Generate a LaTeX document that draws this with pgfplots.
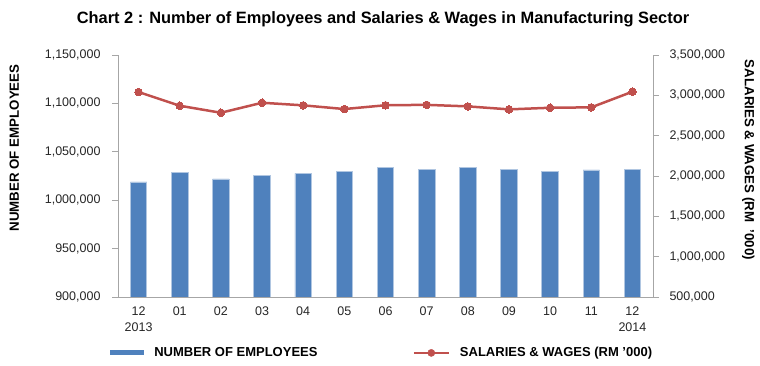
\documentclass[border=0pt]{standalone}
\usepackage{pgfplots}
\pgfplotsset{compat=1.18}
\usepackage{fontspec}
\setmainfont{Liberation Sans}
\definecolor{barblue}{HTML}{4F81BD}
\definecolor{linered}{HTML}{C0504D}
\definecolor{axgray}{HTML}{A6A6A6}
\definecolor{txt}{HTML}{262626}
\begin{document}
\begin{tikzpicture}
\path[use as bounding box] (0,0) rectangle (760pt,366pt);
\node[font=\bfseries\fontsize{16.4}{18}\selectfont] at (383pt,347pt) {Chart 2 : Number of Employees and Salaries \& Wages in Manufacturing Sector};
\pgfplotsset{
  common/.style={
    at={(118pt,69pt)}, anchor=south west,
    scale only axis, width=535pt, height=242pt,
    xmin=-0.5, xmax=12.5,
    tick align=outside,
    major tick length=6pt, minor tick length=6pt,
    axis line style={axgray, line width=0.8pt},
    tick style={axgray, line width=0.8pt},
    tick label style={font=\fontsize{12.5}{15}\selectfont, text=txt},
    scaled y ticks=false,
    /pgf/number format/.cd, fixed, precision=0, 1000 sep={,}, assume math mode=true,
  }
}
\begin{axis}[common,
  ybar, bar width=16.5pt,
  axis x line*=bottom, axis y line*=left,
  ymin=900000, ymax=1150000,
  ytick={900000,950000,1000000,1050000,1100000,1150000},
  yticklabel style={xshift=-8pt},
  xtick={0,...,12},
  xticklabels={{12\\2013},01,02,03,04,05,06,07,08,09,10,11,{12\\2014}},
  xticklabel style={align=center, font=\fontsize{12.5}{16}\selectfont},
  x tick style={draw=none},
  minor xtick={-0.5,0.5,...,12.5},
  ylabel={NUMBER OF EMPLOYEES},
  ylabel style={font=\bfseries\fontsize{13.3}{15}\selectfont, at={(axis description cs:-0.194,0.616)}, anchor=center},
  legend columns=2,
  legend style={at={(axis description cs:-0.02,-0.231)}, anchor=west, draw=none, fill=none,
    font=\bfseries\fontsize{13}{15}\selectfont,
    /tikz/every even column/.append style={column sep=93pt}},
]
\addplot[fill=barblue, draw=barblue!45!white, line width=0.8pt,
  legend image code/.code={\fill[barblue] (0pt,-2pt) rectangle (33pt,2pt); \path (41pt,0pt);}]
  coordinates {(0,1018800) (1,1029100) (2,1021900) (3,1026000) (4,1027800) (5,1029800) (6,1033600) (7,1031900) (8,1034000) (9,1031900) (10,1029800) (11,1031200) (12,1031500)};
\addlegendentry{NUMBER OF EMPLOYEES}
\addlegendimage{legend image code/.code={\draw[linered, line width=2.5pt] (0pt,0pt) -- (35pt,0pt); \fill[linered] (17.5pt,0pt) circle (3.6pt); \path (44pt,0pt);}}
\addlegendentry{SALARIES \& WAGES (RM '000)}
\end{axis}
\begin{axis}[common,
  axis x line=none, axis y line*=right,
  ymin=500000, ymax=3500000,
  ytick={500000,1000000,1500000,2000000,2500000,3000000,3500000},
  yticklabel style={xshift=7pt},
  ylabel={SALARIES \& WAGES (RM \ '000)},
  ylabel style={font=\bfseries\fontsize{13.3}{15}\selectfont, at={(axis description cs:1.178,0.566)}, anchor=center, rotate=180},
]
\addplot[linered, line width=2.5pt, mark=*, mark size=3.8pt, mark options={fill=linered, draw=linered, line width=0pt}]
  coordinates {(0,3041000) (1,2871000) (2,2784000) (3,2908000) (4,2876000) (5,2830000) (6,2877000) (7,2882000) (8,2863000) (9,2826000) (10,2846000) (11,2851000) (12,3045000)};
\end{axis}
\end{tikzpicture}
\end{document}
